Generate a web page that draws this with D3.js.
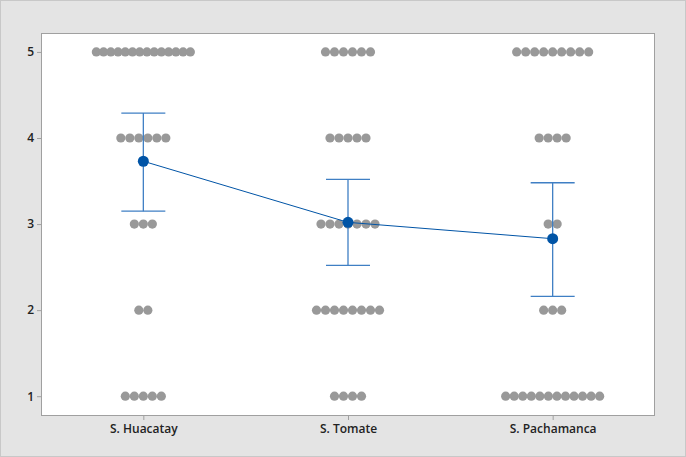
<!DOCTYPE html>
<html>
<head>
<meta charset="utf-8">
<script src="https://cdn.jsdelivr.net/npm/d3@7"></script>
<style>
  body { margin: 0; background: #e4e4e4; }
  svg { display: block; }
  .tick text { font-family: "Open Sans", sans-serif; font-size: 12px; font-weight: 600; fill: #222; }
</style>
</head>
<body>
<svg></svg>
<script>
const categories = ["S. Huacatay", "S. Tomate", "S. Pachamanca"];
const levels = [5, 4, 3, 2, 1];
// number of responses at each level (same order as levels)
const counts = [
  [14, 6, 3, 2, 5],
  [6, 5, 7, 8, 4],
  [9, 4, 2, 3, 12]
];
const means = [3.73, 3.02, 2.83];
const ciLow = [3.15, 2.52, 2.16];
const ciHigh = [4.29, 3.52, 3.48];
const yTicks = [1, 2, 3, 4, 5];

const width = 686;
const height = 457;
const plot = { left: 41, right: 655, top: 33, bottom: 416 };

const svg = d3.select("svg").attr("width", width).attr("height", height);

svg.append("rect")
  .attr("x", 0.5).attr("y", 0.5)
  .attr("width", width - 1).attr("height", height - 1)
  .attr("fill", "#e4e4e4").attr("stroke", "#c8c8c8");

svg.append("rect")
  .attr("x", plot.left + 0.5).attr("y", plot.top + 0.5)
  .attr("width", plot.right - plot.left - 1).attr("height", plot.bottom - plot.top - 1)
  .attr("fill", "#fff").attr("stroke", "#a0a0a0");

const xScale = d3.scalePoint()
  .domain(categories)
  .range([plot.left, plot.right])
  .padding(0.5);

const yScale = d3.scaleLinear()
  .domain([0.77, 5.22])
  .range([plot.bottom, plot.top]);

// axes
const yAxis = d3.axisLeft(yScale).tickValues(yTicks).tickFormat(d3.format("d")).tickSize(4).tickPadding(3);
svg.append("g")
  .attr("transform", "translate(" + plot.left + ",0)")
  .call(yAxis)
  .call(g => g.select(".domain").remove())
  .call(g => g.selectAll("line").attr("stroke", "#a0a0a0"));

const xAxis = d3.axisBottom(xScale).tickSize(4).tickPadding(4);
svg.append("g")
  .attr("transform", "translate(0," + plot.bottom + ")")
  .call(xAxis)
  .call(g => g.select(".domain").remove())
  .call(g => g.selectAll("line").attr("stroke", "#a0a0a0"));

// individual value dots, stacked horizontally around the category
const dots = [];
categories.forEach((c, ci) => {
  levels.forEach((lv, li) => {
    const n = counts[ci][li];
    //crowded rows get squeezed so they fit
    const step = n > 1 ? Math.min(9, 94 / (n - 1)) : 0;
    for (let i = 0; i < n; i++) {
      dots.push({ cat: c, value: lv, off: (i - (n - 1) / 2) * step });
    }
  });
});

svg.append("g")
  .selectAll("circle")
  .data(dots)
  .enter()
  .append("circle")
  .attr("cx", d => xScale(d.cat) + d.off)
  .attr("cy", d => yScale(d.value))
  .attr("r", 4.6)
  .attr("fill", "#999999");

// confidence intervals
const ci = svg.append("g").attr("stroke", "#3f7fc4").attr("stroke-width", 1.3);
categories.forEach((c, i) => {
  const x = xScale(c);
  ci.append("line").attr("x1", x).attr("x2", x).attr("y1", yScale(ciLow[i])).attr("y2", yScale(ciHigh[i]));
  ci.append("line").attr("x1", x - 22).attr("x2", x + 22).attr("y1", yScale(ciLow[i])).attr("y2", yScale(ciLow[i]));
  ci.append("line").attr("x1", x - 22).attr("x2", x + 22).attr("y1", yScale(ciHigh[i])).attr("y2", yScale(ciHigh[i]));
});

// mean line and points
const line = d3.line()
  .x((d, i) => xScale(categories[i]))
  .y(d => yScale(d));

svg.append("path")
  .datum(means)
  .attr("d", line)
  .attr("fill", "none")
  .attr("stroke", "#0054a6")
  .attr("stroke-width", 1);

svg.append("g")
  .selectAll("circle")
  .data(means)
  .enter()
  .append("circle")
  .attr("cx", (d, i) => xScale(categories[i]))
  .attr("cy", d => yScale(d))
  .attr("r", 5.5)
  .attr("fill", "#0054a6");
</script>
</body>
</html>
